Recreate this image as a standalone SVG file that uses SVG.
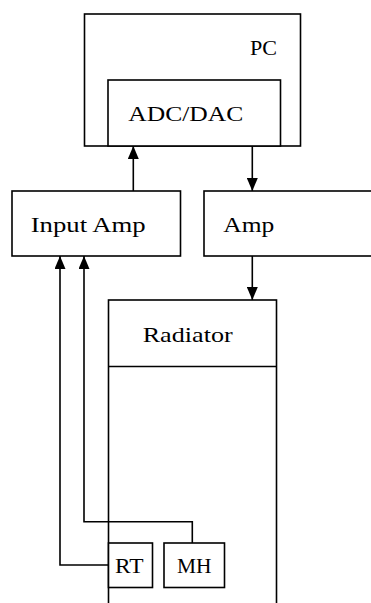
<svg xmlns="http://www.w3.org/2000/svg" width="371" height="603" viewBox="0 0 371 603">
<style>
.box{fill:#fff;stroke:#000;stroke-width:1.6}
.line{fill:none;stroke:#000;stroke-width:1.6}
.t{font-family:"Liberation Serif","Times New Roman",serif;font-size:21px;fill:#000}
</style>
<defs>
<marker id="arr" viewBox="0 0 13 11" refX="13" refY="5.5" markerWidth="13" markerHeight="11" markerUnits="userSpaceOnUse" orient="auto">
<path d="M0,0 L13,5.5 L0,11 z" fill="#000"/>
</marker>
</defs>
<rect width="371" height="603" fill="#fff"/>
<g id="pc">
<rect class="box" x="84.5" y="14" width="216" height="132"/>
<text class="t" x="250" y="55" textLength="27" lengthAdjust="spacingAndGlyphs">PC</text>
</g>
<g id="adcdac">
<rect class="box" x="108" y="80" width="172.5" height="66"/>
<text class="t" x="128.3" y="121" textLength="115" lengthAdjust="spacingAndGlyphs">ADC/DAC</text>
</g>
<g id="inputamp">
<rect class="box" x="12" y="191" width="168.5" height="65"/>
<text class="t" x="30.7" y="232" textLength="115" lengthAdjust="spacingAndGlyphs">Input Amp</text>
</g>
<g id="amp">
<rect class="box" x="204" y="191" width="200" height="65"/>
<text class="t" x="223.3" y="232" textLength="51" lengthAdjust="spacingAndGlyphs">Amp</text>
</g>
<g id="radiator">
<rect class="box" x="108.5" y="300" width="168" height="330"/>
<line class="line" x1="108.5" y1="366.5" x2="276.5" y2="366.5"/>
<text class="t" x="142.7" y="342" textLength="90" lengthAdjust="spacingAndGlyphs">Radiator</text>
</g>
<g id="rt">
<rect class="box" x="108.5" y="543" width="44" height="44.5"/>
<text class="t" x="115" y="573.3" textLength="28.5" lengthAdjust="spacingAndGlyphs">RT</text>
</g>
<g id="mh">
<rect class="box" x="164" y="543" width="60.5" height="44.5"/>
<text class="t" x="177" y="573.3" textLength="34.5" lengthAdjust="spacingAndGlyphs">MH</text>
</g>
<g id="connectors">
<line class="line" x1="133.3" y1="191" x2="133.3" y2="146" marker-end="url(#arr)"/>
<line class="line" x1="252.3" y1="146" x2="252.3" y2="191" marker-end="url(#arr)"/>
<line class="line" x1="252.3" y1="256" x2="252.3" y2="300" marker-end="url(#arr)"/>
<path class="line" d="M108.5,565 H60 V256" marker-end="url(#arr)"/>
<path class="line" d="M192.3,543 V521.7 H84 V256" marker-end="url(#arr)"/>
</g>
</svg>
